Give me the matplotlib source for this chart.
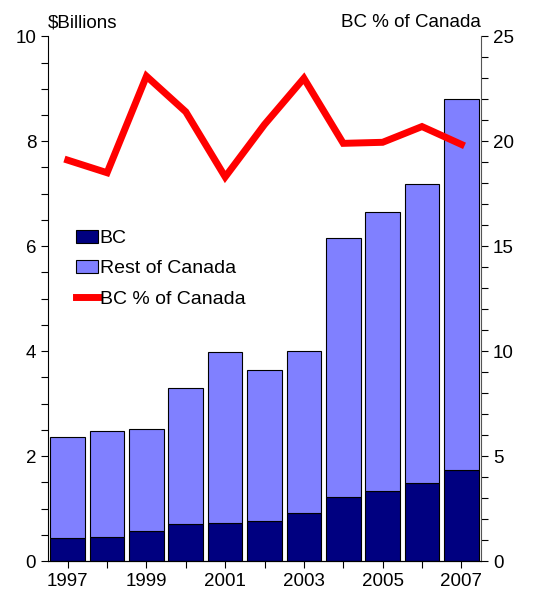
import numpy as np
import matplotlib
matplotlib.use("Agg")
from matplotlib import pyplot as plt
from matplotlib.ticker import MultipleLocator

plt.rcParams['font.family'] = ['Liberation Sans', 'DejaVu Sans']

years = [1997, 1998, 1999, 2000, 2001, 2002, 2003, 2004, 2005, 2006, 2007]
bc = [0.44, 0.46, 0.57, 0.70, 0.72, 0.76, 0.91, 1.22, 1.33, 1.49, 1.73]
total = [2.36, 2.48, 2.51, 3.30, 3.98, 3.64, 4.00, 6.15, 6.65, 7.18, 8.80]
rest = [t - b for t, b in zip(total, bc)]
bc_pct = [19.1, 18.5, 23.1, 21.4, 18.3, 20.8, 23.0, 19.9, 19.95, 20.7, 19.85]

fig = plt.figure(figsize=(5.46, 5.95), dpi=100)
ax = fig.add_axes([0.088, 0.057, 0.793, 0.882])

ax.bar(years, bc, width=0.88, color='#000080', edgecolor='black', linewidth=0.8, label='BC')
ax.bar(years, rest, width=0.88, bottom=bc, color='#8080FF', edgecolor='black', linewidth=0.8,
       label='Rest of Canada')

ax2 = ax.twinx()
line, = ax2.plot(years, bc_pct, color='#FF0000', linewidth=5, solid_joinstyle='miter',
                 label='BC % of Canada')

ax.set_xlim(1996.5, 2007.5)
ax.set_ylim(0, 10)
ax2.set_ylim(0, 25)

ax.set_xticks(years)
ax.set_xticklabels([str(y) if y % 2 == 1 else '' for y in years])
ax.yaxis.set_major_locator(MultipleLocator(2))
ax.yaxis.set_minor_locator(MultipleLocator(0.5))
ax2.yaxis.set_major_locator(MultipleLocator(5))
ax2.yaxis.set_minor_locator(MultipleLocator(1))

for a in (ax, ax2):
    a.spines['top'].set_visible(False)
    a.tick_params(labelsize=13.5, direction='out', length=5, width=0.8, colors='black')
    a.tick_params(which='minor', direction='out', length=5, width=0.8)
ax.spines['right'].set_visible(False)
ax2.spines['left'].set_visible(False)
ax2.spines['right'].set_color('#555555')

ax.text(0.0, 1.01, '$Billions', transform=ax.transAxes, fontsize=13.5, ha='left', va='bottom')
ax.text(1.0, 1.01, 'BC % of Canada', transform=ax.transAxes, fontsize=13.5, ha='right', va='bottom')

handles = [ax.patches[0], ax.patches[len(years)], line]
labels = ['BC', 'Rest of Canada', 'BC % of Canada']
ax2.legend(handles, labels, loc='upper left', bbox_to_anchor=(0.025, 0.665), frameon=False,
           fontsize=14, handlelength=1.1, handletextpad=0.1, labelspacing=0.65)

fig.savefig('out.png', dpi=100)
